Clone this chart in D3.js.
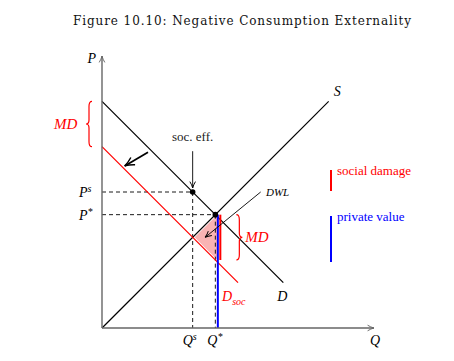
<!DOCTYPE html>
<html>
<head>
<meta charset="utf-8">
<script src="https://cdn.jsdelivr.net/npm/d3@7"></script>
<style>
  body { margin: 0; background: #fff; }
  svg text { font-family: "Liberation Serif", "DejaVu Serif", serif; }
</style>
</head>
<body>
<div id="chart"></div>
<script>
// curves as P = intercept + slope * Q, drawn on [q0, q1]
var demand = { intercept: 10, slope: -1, q0: 0, q1: 8 };
var demandSoc = { intercept: 8, slope: -1, q0: 0, q1: 6 };
var supply = { intercept: 0, slope: 1, q0: 0, q1: 10 };

var qStar = 5, pStar = 5;   // private equilibrium
var qSoc = 4, pSoc = 6;     // socially efficient point
var dwl = [[4, 4], [5, 5], [5, 3]];
var md = 2;

var width = 454, height = 361;

var svg = d3.select("#chart")
    .append("svg")
    .attr("width", width)
    .attr("height", height);

var x = d3.scaleLinear().domain([0, 12]).range([102, 374]);
var y = d3.scaleLinear().domain([0, 12]).range([328, 56]);

// arrow heads
var defs = svg.append("defs");
function marker(id, size, color) {
    defs.append("marker")
        .attr("id", id)
        .attr("viewBox", "0 0 10 10")
        .attr("refX", 9).attr("refY", 5)
        .attr("markerWidth", size).attr("markerHeight", size)
        .attr("markerUnits", "userSpaceOnUse")
        .attr("orient", "auto")
        .append("path")
        .attr("d", "M1,1.5 Q5,4 9,5 Q5,6 1,8.5")
        .attr("fill", "none")
        .attr("stroke", color)
        .attr("stroke-width", 1.2);
}
marker("ax", 8, "#666");
marker("thin", 8, "#000");
marker("thick", 12, "#000");

// title
svg.append("text")
    .attr("x", 242).attr("y", 25)
    .attr("text-anchor", "middle")
    .attr("textLength", 338)
    .attr("lengthAdjust", "spacing")
    .style("font-family", "'DejaVu Serif', serif")
    .style("font-size", "12px")
    .attr("fill", "#111")
    .text("Figure 10.10: Negative Consumption Externality");

// pink DWL triangle
svg.append("path")
    .attr("d", d3.line().x(d => x(d[0]) + 2).y(d => y(d[1]))(dwl) + "Z")
    .attr("fill", "#f9b3b3")
    .attr("stroke", "none");

// dashed guides
var dash = svg.append("g").attr("stroke", "#000").attr("stroke-dasharray", "4,3").attr("stroke-width", 0.9);
dash.append("line").attr("x1", x(0)).attr("x2", x(qSoc)).attr("y1", y(pSoc)).attr("y2", y(pSoc));
dash.append("line").attr("x1", x(0)).attr("x2", x(qStar)).attr("y1", y(pStar)).attr("y2", y(pStar));
dash.append("line").attr("x1", x(qSoc)).attr("x2", x(qSoc)).attr("y1", y(pSoc)).attr("y2", y(0));
dash.append("line").attr("x1", x(qStar)).attr("x2", x(qStar)).attr("y1", y(pStar)).attr("y2", y(0));

// curves
function drawCurve(c, color) {
    svg.append("line")
        .attr("x1", x(c.q0)).attr("y1", y(c.intercept + c.slope * c.q0))
        .attr("x2", x(c.q1)).attr("y2", y(c.intercept + c.slope * c.q1))
        .attr("stroke", color).attr("stroke-width", 1.2);
}
drawCurve(demand, "#000");
drawCurve(supply, "#000");
drawCurve(demandSoc, "#f00");

// private value (blue) and marginal damage (red) at Q*
svg.append("line")
    .attr("x1", x(qStar) + 2.5).attr("x2", x(qStar) + 2.5)
    .attr("y1", y(pStar)).attr("y2", y(0))
    .attr("stroke", "#00f").attr("stroke-width", 2);
svg.append("line")
    .attr("x1", x(qStar) + 5).attr("x2", x(qStar) + 5)
    .attr("y1", y(pStar)).attr("y2", y(pStar - md))
    .attr("stroke", "#f00").attr("stroke-width", 2);

// axes
svg.append("line")
    .attr("x1", x(0)).attr("y1", y(0)).attr("x2", x(0)).attr("y2", y(12))
    .attr("stroke", "#666").attr("stroke-width", 1.4).attr("marker-end", "url(#ax)");
svg.append("line")
    .attr("x1", x(0)).attr("y1", y(0)).attr("x2", x(12)).attr("y2", y(0))
    .attr("stroke", "#666").attr("stroke-width", 1.4).attr("marker-end", "url(#ax)");

// points
svg.selectAll("circle.pt")
    .data([[qSoc, pSoc], [qStar, pStar]])
    .enter().append("circle")
    .attr("cx", d => x(d[0])).attr("cy", d => y(d[1]))
    .attr("r", 2.8).attr("fill", "#000");

// curly braces: vertical, ends at x0, tip offset by w
function brace(x0, y0, y1, w) {
    var m = (y0 + y1) / 2, h = w / 2, s = Math.sign(y1 - y0);
    return "M" + x0 + "," + y0 +
        "Q" + (x0 + h) + "," + y0 + " " + (x0 + h) + "," + (y0 + 5 * s) +
        "L" + (x0 + h) + "," + (m - 4 * s) +
        "Q" + (x0 + h) + "," + m + " " + (x0 + w) + "," + m +
        "Q" + (x0 + h) + "," + m + " " + (x0 + h) + "," + (m + 4 * s) +
        "L" + (x0 + h) + "," + (y1 - 5 * s) +
        "Q" + (x0 + h) + "," + y1 + " " + x0 + "," + y1;
}
svg.append("path")
    .attr("d", brace(x(0) - 10, y(demand.intercept), y(demandSoc.intercept), -6))
    .attr("fill", "none").attr("stroke", "#f00").attr("stroke-width", 1.2);
svg.append("path")
    .attr("d", brace(x(qStar) + 21, y(pStar), y(pStar - md), 6))
    .attr("fill", "none").attr("stroke", "#f00").attr("stroke-width", 1.2);

// shift arrow D -> D_soc
svg.append("line")
    .attr("x1", x(2.03)).attr("y1", y(7.75))
    .attr("x2", x(1.0)).attr("y2", y(7.15))
    .attr("stroke", "#000").attr("stroke-width", 1.8).attr("marker-end", "url(#thick)");

// soc. eff. arrow
svg.append("line")
    .attr("x1", x(qSoc)).attr("y1", y(7.8))
    .attr("x2", x(qSoc)).attr("y2", y(pSoc) - 4)
    .attr("stroke", "#000").attr("stroke-width", 0.9).attr("marker-end", "url(#thin)");
svg.append("text")
    .attr("x", x(qSoc)).attr("y", 141)
    .attr("text-anchor", "middle")
    .style("font-size", "13px").attr("fill", "#222")
    .text("soc. eff.");

// DWL arrow
svg.append("line")
    .attr("x1", x(7.0)).attr("y1", y(6.0))
    .attr("x2", x(4.55)).attr("y2", y(4.0))
    .attr("stroke", "#000").attr("stroke-width", 0.9).attr("marker-end", "url(#thin)");

// math labels
function label(tx, ty, str, opts) {
    opts = opts || {};
    var t = svg.append("text")
        .attr("x", tx).attr("y", ty)
        .attr("text-anchor", opts.anchor || "start")
        .attr("fill", opts.color || "#000")
        .style("font-size", (opts.size || 14) + "px")
        .style("font-style", "italic");
    t.append("tspan").text(str);
    if (opts.sup) t.append("tspan").attr("dy", -5).style("font-size", "10px").text(opts.sup);
    if (opts.sub) t.append("tspan").attr("dy", 4).style("font-size", "10px").text(opts.sub);
    return t;
}
label(x(0) - 6, 63, "P", { anchor: "end" });
label(x(12) - 4, 345, "Q");
label(x(supply.q1) + 5, y(supply.q1) - 5, "S");
label(x(demand.q1) - 6, y(demand.intercept + demand.slope * demand.q1) + 18, "D");
label(x(demandSoc.q1) - 16, y(2) + 18, "D", { color: "#f00", sub: "soc" });
label(x(0) - 23, y(pSoc) + 5, "P", { sup: "s" });
label(x(0) - 23, y(pStar) + 5, "P", { sup: "*" });
label(x(qSoc) - 10, 345, "Q", { sup: "s" });
label(x(qStar) - 8, 345, "Q", { sup: "*" });
label(x(0) - 48, y(9) + 5, "MD", { color: "#f00", size: 15 });
label(x(qStar) + 30, y(pStar - md / 2) + 5, "MD", { color: "#f00", size: 15 });
label(266, 196, "DWL", { size: 11 });

// legend
var legend = [
    { name: "social damage", color: "#f00", y0: 170, y1: 191 },
    { name: "private value", color: "#00f", y0: 216, y1: 262 }
];
var lg = svg.selectAll("g.legend").data(legend).enter().append("g");
lg.append("line")
    .attr("x1", 331).attr("x2", 331)
    .attr("y1", d => d.y0).attr("y2", d => d.y1)
    .attr("stroke", d => d.color).attr("stroke-width", 2);
lg.append("text")
    .attr("x", 337).attr("y", d => d.y0 + 5)
    .attr("fill", d => d.color)
    .style("font-size", "13px")
    .text(d => d.name);
</script>
</body>
</html>
